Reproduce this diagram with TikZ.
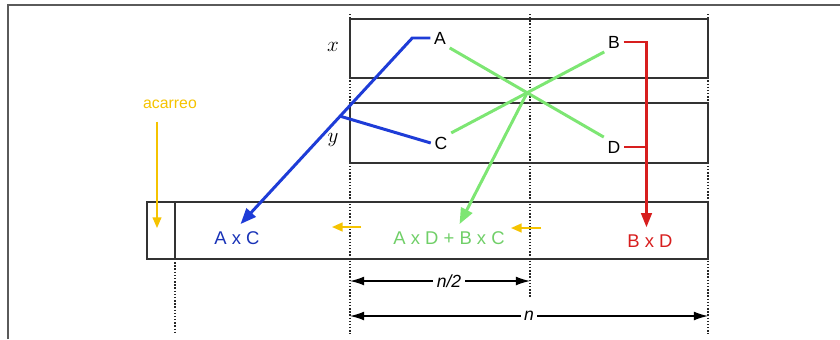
\documentclass[tikz,border=0pt]{standalone}
\usepackage{fontspec}
\setmainfont{Liberation Sans}
\usetikzlibrary{arrows.meta}

\definecolor{azul}{RGB}{30,60,215}
\definecolor{verde}{RGB}{125,230,115}
\definecolor{rojo}{RGB}{215,30,30}
\definecolor{amarillo}{RGB}{245,195,0}
\definecolor{marco}{RGB}{90,90,90}

\tikzset{
  caja/.style={draw=black!80, line width=0.7pt},
  guia/.style={draw=black!85, line width=0.8pt, densely dotted},
  letra/.style={font=\fontsize{10}{11}\selectfont, inner sep=2pt},
  eje/.style={font=\large, inner sep=1pt},
  prod/.style={font=\fontsize{10.5}{12}\selectfont, inner sep=1pt},
  linea/.style={line width=1.7pt},
  punta/.style={-{Triangle[length=9pt,width=7pt]}},
  cota/.style={black, line width=0.7pt, {Latex[length=8pt,width=5pt]}-{Latex[length=8pt,width=5pt]}},
  etcota/.style={fill=white, font=\normalsize\itshape, inner sep=2pt},
  flechaam/.style={amarillo, line width=1pt, -{Triangle[length=6pt,width=5pt]}}
}

\begin{document}
\begin{tikzpicture}[x=0.02cm, y=-0.02cm]
\useasboundingbox (0,0) rectangle (840,339);

% marco
\draw[marco, line width=0.8pt] (8,339) -- (8,5) -- (840,5);

% lineas guia punteadas
\draw[guia] (350,14) -- (350,334);
\draw[guia] (530,14) -- (530,298);
\draw[guia] (708,14) -- (708,334);
\draw[guia] (175,259) -- (175,334);

% factores x, y y el resultado
\draw[caja] (350,19) rectangle (708,78);
\draw[caja] (350,103) rectangle (708,163);
\draw[caja] (147,202) rectangle (708,259);
\draw[caja] (175,202) -- (175,259);

\node[eje] (ex) at (333,47) {$x$};
\node[eje] (ey) at (333,140) {$y$};

\node[letra] (A) at (440,38) {A};
\node[letra] (B) at (614,42) {B};
\node[letra] (C) at (441,143) {C};
\node[letra] (D) at (614,147) {D};

% productos parciales
\node[prod, text=azul!85!black] (AC) at (237,238) {A x C};
\node[prod, text=verde!90!black] (ADBC) at (449,238) {A x D + B x C};
\node[prod, text=rojo] (BD) at (650,241) {B x D};

% A x C
\coordinate (jAC) at (339.5,116);
\draw[azul, linea, punta] (A.west) -- ++(-18,0) -- ([xshift=2pt,yshift=3pt]AC.north);
\draw[azul, linea] (C.west) -- (jAC);

% A x D + B x C
\draw[verde, linea] (A.south east) -- (D.north west);
\draw[verde, linea] (B.south west) -- (C.north east);
\coordinate (cruce) at (intersection of A.south east--D.north west and B.south west--C.north east);
\draw[verde, linea, punta] (cruce) -- ([xshift=6pt,yshift=3pt]ADBC.north);

% B x D
\coordinate (pBD) at ([xshift=-2pt,yshift=3pt]BD.north);
\draw[rojo, line width=1.4pt, -{Triangle[length=8pt,width=6pt]}] (B.east) -| (pBD);
\draw[rojo, line width=1.4pt] (D.east) -- (D.east -| pBD);

% acarreo
\node[font=\small, text=amarillo] (acarreo) at (170,104) {acarreo};
\coordinate (acFin) at (157,228);
\draw[flechaam, line width=0.7pt, shorten <=4pt] (acarreo.south -| acFin) -- (acFin);
\coordinate (a1i) at (361,227);
\coordinate (a1f) at (332,227);
\coordinate (a2i) at (541,228);
\coordinate (a2f) at (511,228);
\draw[flechaam] (a1i) -- (a1f);
\draw[flechaam] (a2i) -- (a2f);

% cotas
\coordinate (c1i) at (350,281);
\coordinate (c1f) at (530,281);
\coordinate (c2i) at (350,316);
\coordinate (c2f) at (708,316);
\draw[cota] (c1i) -- node[etcota, pos=0.55] (mitad) {n/2} (c1f);
\draw[cota] (c2i) -- node[etcota] (total) {n} (c2f);
\end{tikzpicture}
\end{document}
